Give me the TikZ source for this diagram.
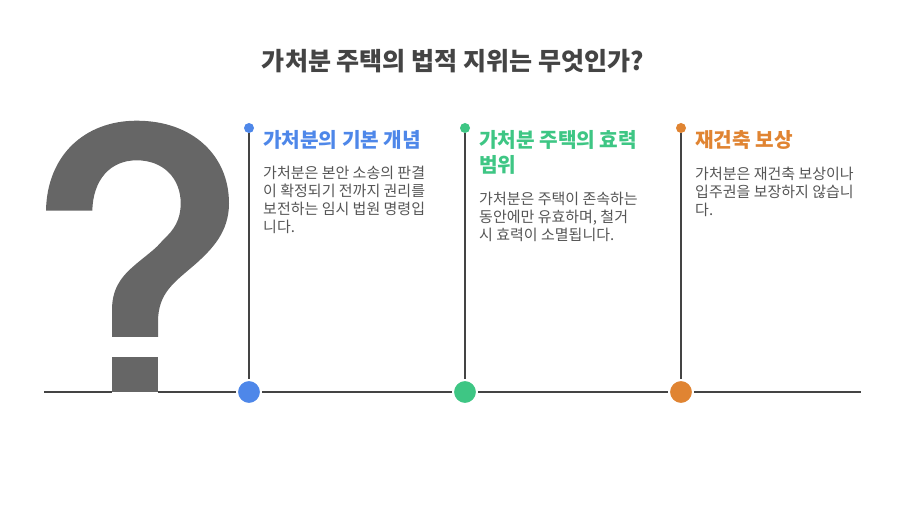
\documentclass[tikz,border=0pt]{standalone}
\usepackage{fontspec}
\setmainfont{Noto Sans CJK KR}
\usepackage{xcolor}
\definecolor{bluedot}{HTML}{4E87E9}
\definecolor{greendot}{HTML}{3EC684}
\definecolor{orangedot}{HTML}{E08432}
\definecolor{inkline}{HTML}{444444}
\definecolor{qgray}{HTML}{666666}
\definecolor{bodygray}{HTML}{555555}
\definecolor{titlegray}{HTML}{444444}
\tikzset{
    bigdot/.style={circle, fill=#1, draw=white, line width=2pt, minimum size=24pt, inner sep=0pt},
    smalldot/.style={circle, fill=#1, minimum size=10pt, inner sep=0pt, outer sep=0pt},
    railline/.style={draw=inkline, line width=2pt},
    headtext/.style={anchor=north west, inner sep=0pt, align=left, text=#1, font=\fontsize{20.2}{25}\selectfont\bfseries},
    bodytext/.style={anchor=north west, inner sep=0pt, align=left, text=bodygray, font=\fontsize{15}{18}\selectfont},
}

\begin{document}
\begin{tikzpicture}[x=1pt, y=-1pt]
    \useasboundingbox (0, 0) rectangle (905, 510);

    \node[anchor=base, inner sep=0pt, text=titlegray, font=\fontsize{25.05}{28}\selectfont\bfseries] (title) at (453, 71) {가처분 주택의 법적 지위는 무엇인가?};

    % question mark
    \fill[qgray] (46, 210.7) .. controls (47, 155) and (85, 120.7) .. (136.7, 120.7)
        .. controls (192, 120.7) and (229, 155) .. (229, 203.3)
        .. controls (229, 232) and (212, 249) .. (196.7, 263)
        .. controls (175, 282) and (158, 292) .. (158, 322)
        -- (158, 337) -- (112, 337) -- (112, 310)
        .. controls (112, 290) and (120, 278) .. (133, 266.7)
        .. controls (145, 256) and (155, 250) .. (163, 240)
        .. controls (174, 230) and (180.7, 220) .. (180.7, 203.3)
        .. controls (180.7, 178) and (163, 160.3) .. (136.7, 160.3)
        .. controls (110, 160.3) and (93, 180) .. (92.3, 210.7) -- cycle;
    \node[fill=qgray, minimum width=46pt, minimum height=35pt, inner sep=0pt, outer sep=0pt] (qdot) at (135, 374.5) {};

    \coordinate (railL) at (44, 392);
    \coordinate (railR) at (861, 392);
    \node[bigdot=bluedot] (blueB) at (249, 392) {};
    \node[bigdot=greendot] (greenB) at (465, 392) {};
    \node[bigdot=orangedot] (orangeB) at (681, 392) {};
    \node[smalldot=bluedot] (blueT) at (249, 128) {};
    \node[smalldot=greendot] (greenT) at (465, 128) {};
    \node[smalldot=orangedot] (orangeT) at (681, 128) {};

    \draw[railline] (railL) -- (qdot.south west |- railL);
    \draw[railline] (qdot.south east |- railL) -- (blueB);
    \draw[railline] (blueB) -- (greenB);
    \draw[railline] (greenB) -- (orangeB);
    \draw[railline] (orangeB) -- (railR);
    \draw[railline] (blueT) -- (blueB);
    \draw[railline] (greenT) -- (greenB);
    \draw[railline] (orangeT) -- (orangeB);

    \node[headtext=bluedot] (blueH) at (263, 130) {가처분의 기본 개념};
    \node[bodytext] (blueP) at (263, 166) {가처분은 본안 소송의 판결\\이 확정되기 전까지 권리를\\보전하는 임시 법원 명령입\\니다.};

    \node[headtext=greendot] (greenH) at (479, 130) {가처분 주택의 효력\\범위};
    \node[bodytext] (greenP) at (479, 192) {가처분은 주택이 존속하는\\동안에만 유효하며, 철거\\시 효력이 소멸됩니다.};

    \node[headtext=orangedot] (orangeH) at (695, 130) {재건축 보상};
    \node[bodytext] (orangeP) at (695, 167) {가처분은 재건축 보상이나\\입주권을 보장하지 않습니\\다.};
\end{tikzpicture}
\end{document}
